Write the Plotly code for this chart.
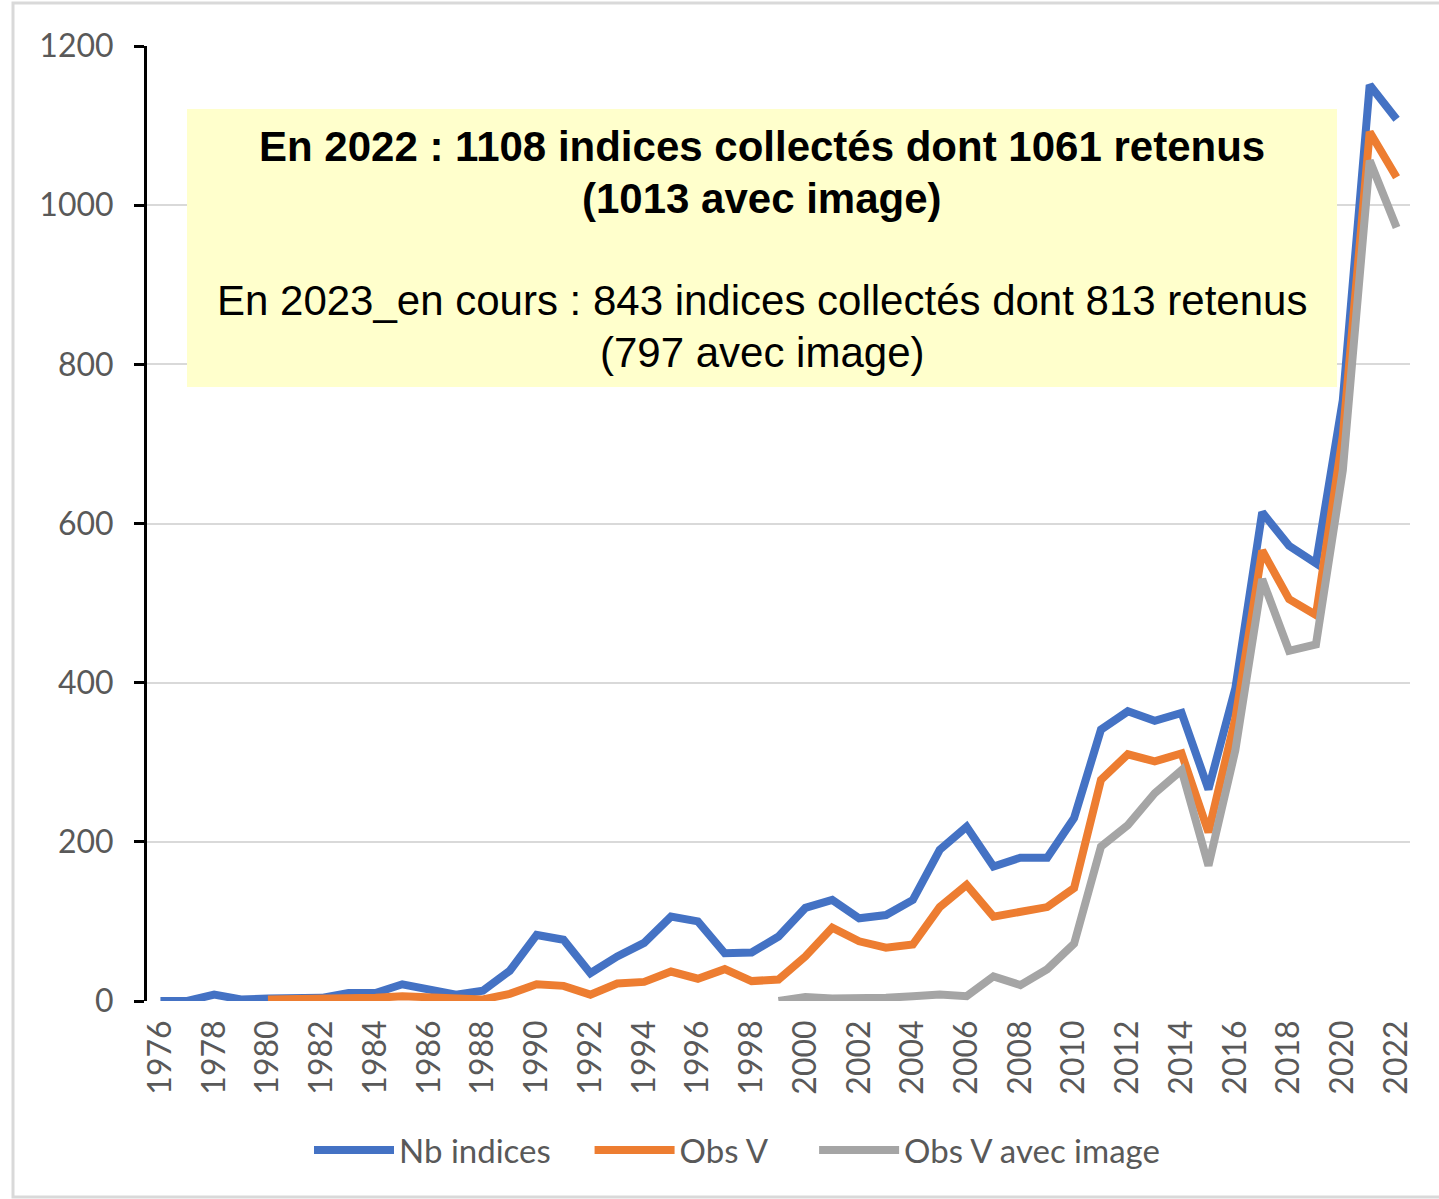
import plotly.graph_objects as go

years = list(range(1976, 2023))

nb_indices = [0, 0, 8, 2, 3, 3, 4, 10, 10, 21, 15, 8, 13, 38, 83, 77, 35, 56, 73, 106,
              100, 60, 61, 81, 117, 127, 104, 108, 127, 190, 219, 169, 180, 180, 230,
              341, 364, 352, 362, 266, 393, 614, 572, 550, 755, 1151, 1108]

obs_v_years = list(range(1980, 2023))
obs_v = [2, 2, 2, 4, 4, 6, 4, 2, 2, 9, 21, 19, 8, 22, 24, 37, 28, 40, 25, 27, 56, 92,
         75, 67, 71, 118, 146, 106, 112, 118, 142, 278, 310, 301, 311, 212, 355, 566,
         505, 485, 710, 1092, 1035]

img_years = list(range(1999, 2023))
obs_v_img = [0, 5, 3, 3, 4, 6, 8, 6, 31, 20, 40, 72, 194, 221, 261, 290, 170, 315,
             530, 440, 448, 667, 1056, 972]

y_ticks = [0, 200, 400, 600, 800, 1000, 1200]
x_ticks = list(range(1976, 2023, 2))

W, H = 1439, 1199
L, R, T, B = 147, 1410, 46, 1001

def px(x):
    return (x - L) / (R - L)

def py(y):
    return (B - y) / (B - T)

fig = go.Figure()
fig.add_trace(go.Scatter(x=years, y=nb_indices, mode="lines", name="Nb indices" + "\u00a0" * 4,
                         line=dict(color="#4472C4", width=8)))
fig.add_trace(go.Scatter(x=obs_v_years, y=obs_v, mode="lines", name="Obs V" + "\u00a0" * 5,
                         line=dict(color="#ED7D31", width=8)))
fig.add_trace(go.Scatter(x=img_years, y=obs_v_img, mode="lines", name="Obs V avec image",
                         line=dict(color="#A5A5A5", width=8)))

tick_font = dict(family="Lato, Open Sans, sans-serif", size=32, color="#595959")

fig.update_layout(
    width=W, height=H,
    margin=dict(l=L, r=W - R, t=T, b=H - B),
    paper_bgcolor="white", plot_bgcolor="white",
    font=dict(family="Lato, Open Sans, sans-serif", color="#595959", size=32),
    showlegend=True,
    legend=dict(orientation="h", x=px(309), xanchor="left", y=py(1150), yanchor="middle",
                font=dict(size=33, color="#595959"), itemwidth=80, tracegroupgap=0),
    xaxis=dict(range=[1975.5, 2022.5], tickmode="array", tickvals=x_ticks,
               ticktext=[str(v) for v in x_ticks], tickangle=-90, showgrid=False,
               zeroline=False, showline=False, ticks="", tickfont=tick_font,
               ticklabelstandoff=12),
    yaxis=dict(range=[0, 1200], tickmode="array", tickvals=y_ticks,
               ticktext=[str(v) for v in y_ticks], showgrid=True, gridcolor="#D9D9D9",
               gridwidth=2, zeroline=False, showline=True, linecolor="black", linewidth=3,
               ticks="outside", ticklen=10, tickwidth=3, tickcolor="black",
               tickfont=tick_font, ticklabelstandoff=14),
    shapes=[
        dict(type="rect", xref="paper", yref="paper", x0=px(187), x1=px(1337),
             y0=py(387), y1=py(109), fillcolor="#FFFFCC", line=dict(width=0), layer="above"),
        dict(type="rect", xref="paper", yref="paper", x0=px(13), x1=px(1445),
             y0=py(1197), y1=py(3), fillcolor="rgba(0,0,0,0)",
             line=dict(color="#D9D9D9", width=3), layer="below"),
    ],
)

lines = [
    ("<b>En 2022 : 1108 indices collectés dont 1061 retenus</b>", 147),
    ("<b>(1013 avec image)</b>", 198),
    ("En 2023_en cours : 843 indices collectés dont 813 retenus", 300),
    ("(797 avec image)", 352),
]
for txt, ypix in lines:
    fig.add_annotation(text=txt, xref="paper", yref="paper", x=px(762), y=py(ypix),
                       xanchor="center", yanchor="middle", showarrow=False,
                       font=dict(family="Liberation Sans, Arial, sans-serif", size=42, color="black"))

fig.write_html("out.html", config={"displayModeBar": False},
               post_script="document.body.style.margin='0px';document.body.style.overflow='hidden';")
